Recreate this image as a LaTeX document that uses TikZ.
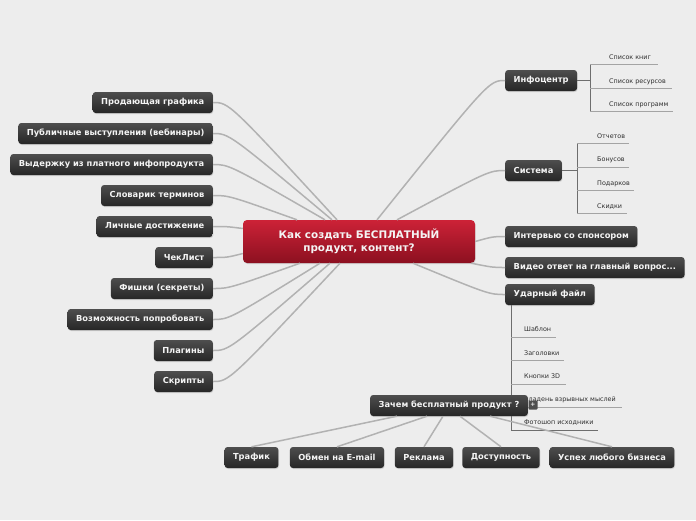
\documentclass[tikz,border=0pt]{standalone}
\usepackage{fontspec}
\setmainfont{DejaVu Sans}
\usetikzlibrary{positioning,shadows}
\definecolor{bgcol}{HTML}{EDEDED}
\definecolor{boxtop}{HTML}{4E4E4E}
\definecolor{boxbot}{HTML}{262626}
\definecolor{boxtext}{HTML}{F4F4F4}
\definecolor{redtop}{HTML}{CC2237}
\definecolor{redbot}{HTML}{8C1020}
\definecolor{linecol}{HTML}{B2B2B2}
\definecolor{spinecol}{HTML}{6E6E6E}
\definecolor{ulcol}{HTML}{A4A4A4}
\definecolor{leaftext}{HTML}{2E2E2E}

\begin{document}
\begin{tikzpicture}[
    x=1pt, y=-1pt,
    topic/.style={rectangle, rounded corners=3pt, top color=boxtop, bottom color=boxbot, text=boxtext,
        font=\bfseries\fontsize{8.3}{9}\selectfont, inner xsep=8.5pt, minimum height=21pt,
        drop shadow={opacity=0.25, shadow xshift=0.6pt, shadow yshift=-1pt}},
    root/.style={rectangle, rounded corners=4pt, top color=redtop, bottom color=redbot, text=boxtext,
        font=\bfseries\fontsize{10.4}{13}\selectfont, align=center, minimum width=232pt, minimum height=43pt,
        drop shadow={opacity=0.25, shadow xshift=0.6pt, shadow yshift=-1pt}},
    leaf/.style={font=\fontsize{6.4}{7}\selectfont, text=leaftext, inner sep=0pt},
    conn/.style={draw=linecol, line width=1.5pt},
    spine/.style={draw=spinecol, line width=0.8pt},
    uline/.style={draw=ulcol, line width=0.8pt}
]
    \useasboundingbox[fill=bgcol] (0,0) rectangle (696,520);

    % central topic
    \node (root) [root] at (359,241.5) {Как создать БЕСПЛАТНЫЙ\\продукт, контент?};

    % left branch
    \node (sell)    [topic, anchor=east] at (213,102.5) {Продающая графика};
    \node (public)  [topic, anchor=east] at (213,133.5) {Публичные выступления (вебинары)};
    \node (extract) [topic, anchor=east] at (213,164.5) {Выдержку из платного инфопродукта};
    \node (vocab)   [topic, anchor=east] at (213,195.5) {Словарик терминов};
    \node (achieve) [topic, anchor=east] at (213,226.5) {Личные достижение};
    \node (check)   [topic, anchor=east] at (213,257.5) {ЧекЛист};
    \node (tricks)  [topic, anchor=east] at (213,288.5) {Фишки (секреты)};
    \node (trial)   [topic, anchor=east] at (213,319.5) {Возможность попробовать};
    \node (plugins) [topic, anchor=east] at (213,350.5) {Плагины};
    \node (scripts) [topic, anchor=east] at (213,381.5) {Скрипты};

    % right branch
    \node (info)    [topic, anchor=west] at (505,80.5) {Инфоцентр};
    \node (system)  [topic, anchor=west] at (505,170.5) {Система};
    \node (inter)   [topic, anchor=west] at (505,236.5) {Интервью со спонсором};
    \node (video)   [topic, anchor=west] at (505,267.5) {Видео ответ на главный вопрос...};
    \node (strike)  [topic, anchor=west] at (505,294.5) {Ударный файл};

    % bottom branch
    \node (traffic) [topic] at (251.5,457.5) {Трафик};
    \node (email)   [topic] at (337,457.5) {Обмен на E-mail};
    \node (advert)  [topic] at (424,457.5) {Реклама};
    \node (access)  [topic] at (501,457.5) {Доступность};
    \node (success) [topic] at (612,457.5) {Успех любого бизнеса};

    % connectors to the central topic
    \draw [conn] (sell.east)    .. controls +(16,0) .. ([xshift=-22pt]root.north);
    \draw [conn] (public.east)  .. controls +(16,0) .. ([xshift=-27pt]root.north);
    \draw [conn] (extract.east) .. controls +(16,0) .. ([xshift=-34pt]root.north);
    \draw [conn] (vocab.east)   .. controls +(16,0) .. ([xshift=-62pt]root.north);
    \draw [conn] (achieve.east) .. controls +(14,0) .. ([yshift=13pt]root.west);
    \draw [conn] (check.east)   .. controls +(14,0) .. ([yshift=-12pt]root.west);
    \draw [conn] (tricks.east)  .. controls +(16,0) .. ([xshift=-59pt]root.south);
    \draw [conn] (trial.east)   .. controls +(16,0) .. ([xshift=-39pt]root.south);
    \draw [conn] (plugins.east) .. controls +(16,0) .. ([xshift=-29pt]root.south);
    \draw [conn] (scripts.east) .. controls +(16,0) .. ([xshift=-19pt]root.south);
    \draw [conn] (info.west)    .. controls +(-16,0) .. ([xshift=18pt]root.north);
    \draw [conn] (system.west)  .. controls +(-16,0) .. ([xshift=38pt]root.north);
    \draw [conn] (inter.west)   .. controls +(-12,0) .. (root.east);
    \draw [conn] (video.west)   .. controls +(-12,0) .. ([xshift=-4pt]root.south east);
    \draw [conn] (strike.west)  .. controls +(-16,0) .. ([xshift=54pt]root.south);

    % Инфоцентр items
    \coordinate (infoj) at (590,80.5);
    \draw [spine] (info.east) -- (infoj);
    \draw [spine] (590,64) -- (590,111);
    \node (books) [leaf, anchor=base west] at (609,59.5) {Список книг};
    \node (res)   [leaf, anchor=base west] at (609,83) {Список ресурсов};
    \node (progs) [leaf, anchor=base west] at (609,106.5) {Список программ};
    \draw [uline] (590,64) -- (658,64);
    \draw [uline] (590,88) -- (672,88);
    \draw [uline] (590,111) -- (673,111);

    % Система items
    \coordinate (sysj) at (577,170.5);
    \draw [spine] (system.east) -- (sysj);
    \draw [spine] (577,143) -- (577,213);
    \node (reports) [leaf, anchor=base west] at (597,138.5) {Отчетов};
    \node (bonus)   [leaf, anchor=base west] at (597,161.5) {Бонусов};
    \node (gifts)   [leaf, anchor=base west] at (597,185) {Подарков};
    \node (sale)    [leaf, anchor=base west] at (597,208) {Скидки};
    \draw [uline] (577,143) -- (629,143);
    \draw [uline] (577,167) -- (629,167);
    \draw [uline] (577,190) -- (634,190);
    \draw [uline] (577,213) -- (627,213);

    % Ударный файл items
    \draw [spine] ([xshift=6pt]strike.south west) |- (598,430);
    \node (templ)  [leaf, anchor=base west] at (524,331.5) {Шаблон};
    \node (heads)  [leaf, anchor=base west] at (524,355.5) {Заголовки};
    \node (btn)    [leaf, anchor=base west] at (524,378.5) {Кнопки 3D};
    \node (ideas)  [leaf, anchor=base east] at (616,401.5) {Складень взрывных мыслей};
    \node (psd)    [leaf, anchor=base west] at (524,424.5) {Фотошоп исходники};
    \draw [uline] (511,337) -- (556,337);
    \draw [uline] (511,360) -- (564,360);
    \draw [uline] (511,384) -- (566,384);
    \draw [uline] (511,407) -- (622,407);

    % Зачем бесплатный продукт ?
    \node (why) [topic] at (449,405.5) {Зачем бесплатный продукт ?};
    \node (more) [rectangle, rounded corners=1pt, fill=boxtop, text=boxtext, minimum size=9pt, inner sep=0pt,
        font=\bfseries\fontsize{6}{6}\selectfont] at (533,405) {+};
    \draw [conn] ([xshift=-52pt]why.south) -- (traffic.north);
    \draw [conn] ([xshift=-22pt]why.south) -- (email.north);
    \draw [conn] ([xshift=-6pt]why.south)  -- (advert.north);
    \draw [conn] ([xshift=11pt]why.south)  -- (access.north);
    \draw [conn] ([xshift=41pt]why.south)  -- (success.north);
\end{tikzpicture}
\end{document}
